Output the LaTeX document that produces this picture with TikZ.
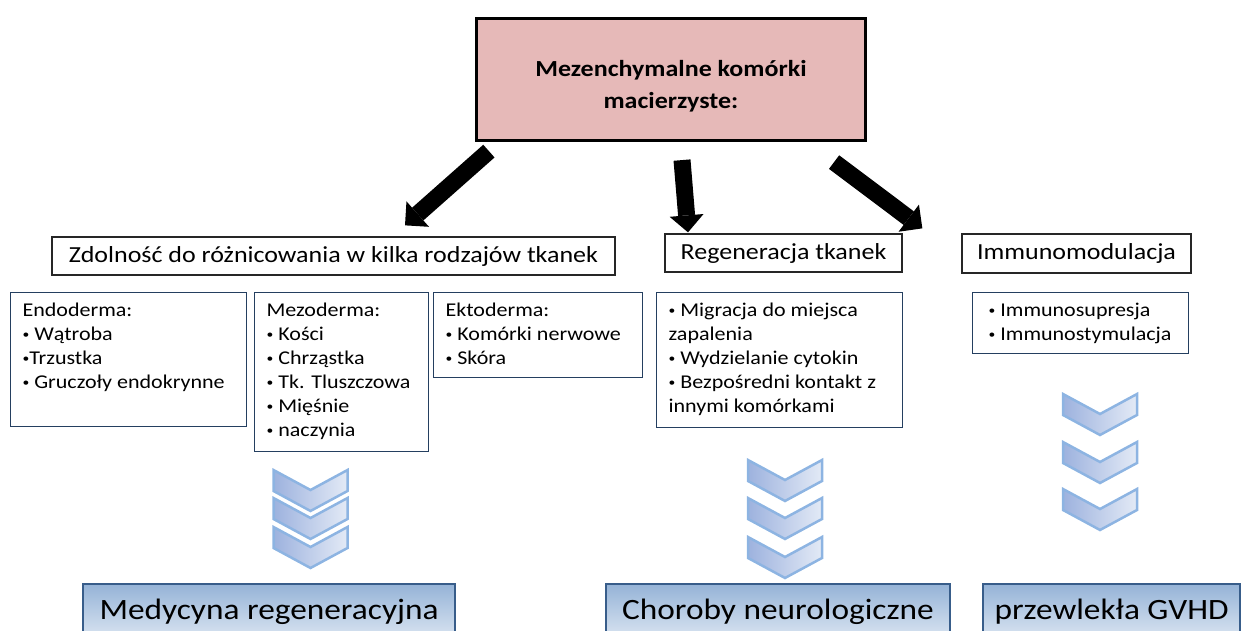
\documentclass[tikz,border=0pt]{standalone}
\usepackage{fontspec}
\setmainfont{Carlito}[FakeStretch=1.13]
\usetikzlibrary{arrows.meta,calc}
\definecolor{topfill}{HTML}{E6B9B8}
\definecolor{navy}{HTML}{243F60}
\definecolor{chevline}{HTML}{8DB4E2}
\definecolor{chevleft}{HTML}{9DB2DE}
\definecolor{chevright}{HTML}{E3EAF6}
\definecolor{bottop}{HTML}{95B3D7}
\definecolor{botbot}{HTML}{DCE6F2}
\definecolor{botline}{HTML}{385D8A}
\newcommand{\bul}{\raisebox{1.8pt}{\fontsize{12}{12}\selectfont •}}
\newcommand{\cboxtext}[3]{\parbox[c][#2][t]{#1}{\raggedright\leftskip=12pt\relax\fontsize{19.5}{24}\selectfont\rule{0pt}{24pt}#3}}
\newcommand{\chevron}[2]{\path[chev] (#1-37,#2) -- (#1,#2+20) -- (#1+37,#2) -- (#1+37,#2+21) -- (#1,#2+41) -- (#1-37,#2+21) -- cycle;}
\begin{document}
\begin{tikzpicture}[x=1pt,y=-1pt,
  topbox/.style={draw=black, line width=3.2pt, fill=topfill, align=center, font=\bfseries\fontsize{23}{32}\selectfont, inner sep=0pt},
  headbox/.style={draw=black!85, line width=1.3pt, fill=white, inner sep=0pt, font=\fontsize{23}{28}\selectfont},
  contbox/.style={draw=navy, line width=1.2pt, fill=white, inner sep=0pt, anchor=north west},
  botbox/.style={draw=botline, line width=1.2pt, top color=bottop, bottom color=botbot, inner sep=0pt, font=\fontsize{29.5}{36}\selectfont},
  chev/.style={draw=chevline, line width=2.5pt, line join=miter, left color=chevleft, right color=chevright},
  bigarrow/.style={draw=black, line width=17pt, -{Triangle[width=34pt,length=17pt,line width=0pt]}}
]
\useasboundingbox (0,0) rectangle (1248,631);
\clip (0,0) rectangle (1248,631);

% top box
\node[topbox, minimum width=389pt, minimum height=122pt] (top) at (671,79.5) {\raisebox{-7pt}[\height][\depth]{\begin{tabular}{@{}c@{}}Mezenchymalne komórki\\macierzyste:\end{tabular}}};

% heading boxes
\node[headbox, minimum width=563pt, minimum height=38pt] (zd) at (333.5,256) {Zdolność do różnicowania w kilka rodzajów tkanek};
\node[headbox, minimum width=237pt, minimum height=38pt] (rg) at (783.5,253) {Regeneracja tkanek};
\node[headbox, minimum width=229pt, minimum height=39pt] (im) at (1076.5,253.5) {Immunomodulacja};

% arrows
\draw[bigarrow] ($(top.south west)+(14,9)$) -- ($(zd.north)+(71.5,-11)$);
\draw[bigarrow] ($(top.south)+(11,18)$) -- ($(rg.north)+(-95.5,-1)$);
\draw[bigarrow] ($(top.south east)+(-33,20)$) -- ($(im.north west)+(-39,-5)$);

% content boxes
\node[contbox] (endo) at (10,292) {\cboxtext{236pt}{134pt}{Endoderma:\\\bul\ Wątroba\\\bul Trzustka\\\bul\ Gruczoły endokrynne}};
\node[contbox] (mezo) at (254,292) {\cboxtext{174pt}{159pt}{Mezoderma:\\\bul\ Kości\\\bul\ Chrząstka\\\bul\ Tk. Tluszczowa\\\bul\ Mięśnie\\\bul\ naczynia}};
\node[contbox] (ekto) at (433,292) {\cboxtext{209pt}{85pt}{Ektoderma:\\\bul\ Komórki nerwowe\\\bul\ Skóra}};
\node[contbox] (regc) at (656,292) {\cboxtext{246pt}{135pt}{\bul\ Migracja do miejsca\\zapalenia\\\bul\ Wydzielanie cytokin\\\bul\ Bezpośredni kontakt z\\innymi komórkami}};
\node[contbox] (immc) at (972,292) {\cboxtext{216pt}{61pt}{\hspace{4pt}\bul\ Immunosupresja\\\hspace*{4pt}\bul\ Immunostymulacja}};

% chevrons
\chevron{310.5}{470}
\chevron{310.5}{498}
\chevron{310.5}{527}
\chevron{785}{460}
\chevron{785}{498}
\chevron{785}{537}
\chevron{1100}{394}
\chevron{1100}{442}
\chevron{1100}{489}

% bottom boxes
\node[botbox, minimum width=372pt, minimum height=56pt] (med) at (269,612) {Medycyna regeneracyjna};
\node[botbox, minimum width=344pt, minimum height=56pt] (chor) at (778,612) {Choroby neurologiczne};
\node[botbox, minimum width=257pt, minimum height=56pt] (gvhd) at (1111.5,612) {przewlekła GVHD};
\end{tikzpicture}
\end{document}
